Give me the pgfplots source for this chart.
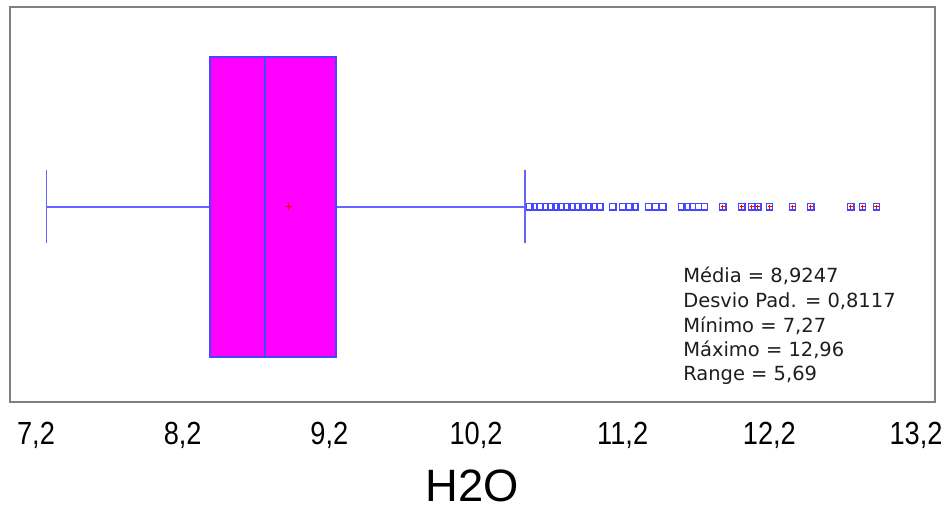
\documentclass[border=0pt]{standalone}
\usepackage{pgfplots}
\pgfplotsset{compat=1.18}
\usepgfplotslibrary{statistics}
\usepackage{fontspec}
\setmainfont{Liberation Sans}
\newfontfamily\statfont{DejaVu Sans}
\definecolor{boxblue}{RGB}{70,70,255}
\definecolor{whiskblue}{RGB}{100,100,255}
\definecolor{framegray}{RGB}{128,128,128}
\definecolor{statgray}{RGB}{30,30,30}
\definecolor{boxfill}{RGB}{255,0,255}

\begin{document}
\begin{tikzpicture}
\useasboundingbox (0,0) rectangle (708.75pt,383.25pt);
\begin{axis}[
    at={(7.5pt,81.75pt)}, anchor=south west,
    scale only axis,
    width=693.75pt, height=296.25pt,
    xmin=7.0228, xmax=13.3295,
    ymin=0, ymax=1,
    xtick={7.2,8.2,9.2,10.2,11.2,12.2,13.2},
    ytick=\empty,
    major tick length=0pt,
    axis line style={framegray, line width=1.5pt},
    xticklabel style={font=\fontsize{24}{24}\selectfont, yshift=-11.5pt, xscale=0.85},
    /pgf/number format/fixed,
    /pgf/number format/fixed zerofill,
    /pgf/number format/precision=1,
    /pgf/number format/use comma,
    /pgf/number format/assume math mode=true,
    xlabel={H2O},
    xlabel style={at={(rel axis cs:0.5,0)}, anchor=north, inner sep=0pt,
        yshift=-51pt, font=\fontsize{34}{34}\selectfont},
    clip=false,
]

% box
\addplot[
    boxplot prepared={
        lower whisker=7.27,
        lower quartile=8.386,
        median=8.761,
        upper quartile=9.245,
        upper whisker=10.533,
        draw position=0.494,
        box extend=0.76,
        whisker extend=0.185,
        draw direction=x,
        every whisker/.style={whiskblue, line width=1.1pt},
        every box/.style={draw=boxblue, fill=boxfill, line width=1.2pt},
        every median/.style={draw=boxblue, line width=1.3pt},
    },
] coordinates {};

% mean
\addplot[only marks, mark=+, red, mark size=2.6pt, line width=0.8pt]
    coordinates {(8.9247,0.494)};

% outliers
\addplot[only marks, mark=square, mark size=2.3pt, boxblue, line width=0.9pt]
    coordinates {
    (10.567,0.494) (10.601,0.494) (10.636,0.494) (10.676,0.494)
    (10.711,0.494) (10.745,0.494) (10.779,0.494) (10.820,0.494)
    (10.854,0.494) (10.895,0.494) (10.929,0.494) (10.970,0.494)
    (11.004,0.494) (11.045,0.494) (11.133,0.494) (11.201,0.494)
    (11.249,0.494) (11.283,0.494) (11.379,0.494) (11.426,0.494)
    (11.474,0.494) (11.604,0.494) (11.638,0.494) (11.678,0.494)
    (11.719,0.494) (11.760,0.494)
};

% extreme outliers
\addplot[only marks, mark=square, mark size=2.3pt, boxblue, line width=0.9pt]
    coordinates {
    (11.883,0.494) (12.013,0.494) (12.081,0.494) (12.122,0.494)
    (12.203,0.494) (12.360,0.494) (12.483,0.494) (12.756,0.494)
    (12.837,0.494) (12.930,0.494)
};
\addplot[only marks, mark=+, red, mark size=1.7pt, line width=0.8pt]
    coordinates {
    (11.883,0.494) (12.013,0.494) (12.081,0.494) (12.122,0.494)
    (12.203,0.494) (12.360,0.494) (12.483,0.494) (12.756,0.494)
    (12.837,0.494) (12.930,0.494)
};

% statistics
\node[anchor=base west, inner sep=0pt, statgray, font=\statfont\fontsize{14.6}{14.6}\selectfont]
    at (rel axis cs:0.7276,0.3013) {Média = 8,9247};
\node[anchor=base west, inner sep=0pt, statgray, font=\statfont\fontsize{14.6}{14.6}\selectfont]
    at (rel axis cs:0.7276,0.2392) {Desvio Pad. = 0,8117};
\node[anchor=base west, inner sep=0pt, statgray, font=\statfont\fontsize{14.6}{14.6}\selectfont]
    at (rel axis cs:0.7276,0.1772) {Mínimo = 7,27};
\node[anchor=base west, inner sep=0pt, statgray, font=\statfont\fontsize{14.6}{14.6}\selectfont]
    at (rel axis cs:0.7276,0.1152) {Máximo = 12,96};
\node[anchor=base west, inner sep=0pt, statgray, font=\statfont\fontsize{14.6}{14.6}\selectfont]
    at (rel axis cs:0.7276,0.0532) {Range = 5,69};
\end{axis}
\end{tikzpicture}
\end{document}
